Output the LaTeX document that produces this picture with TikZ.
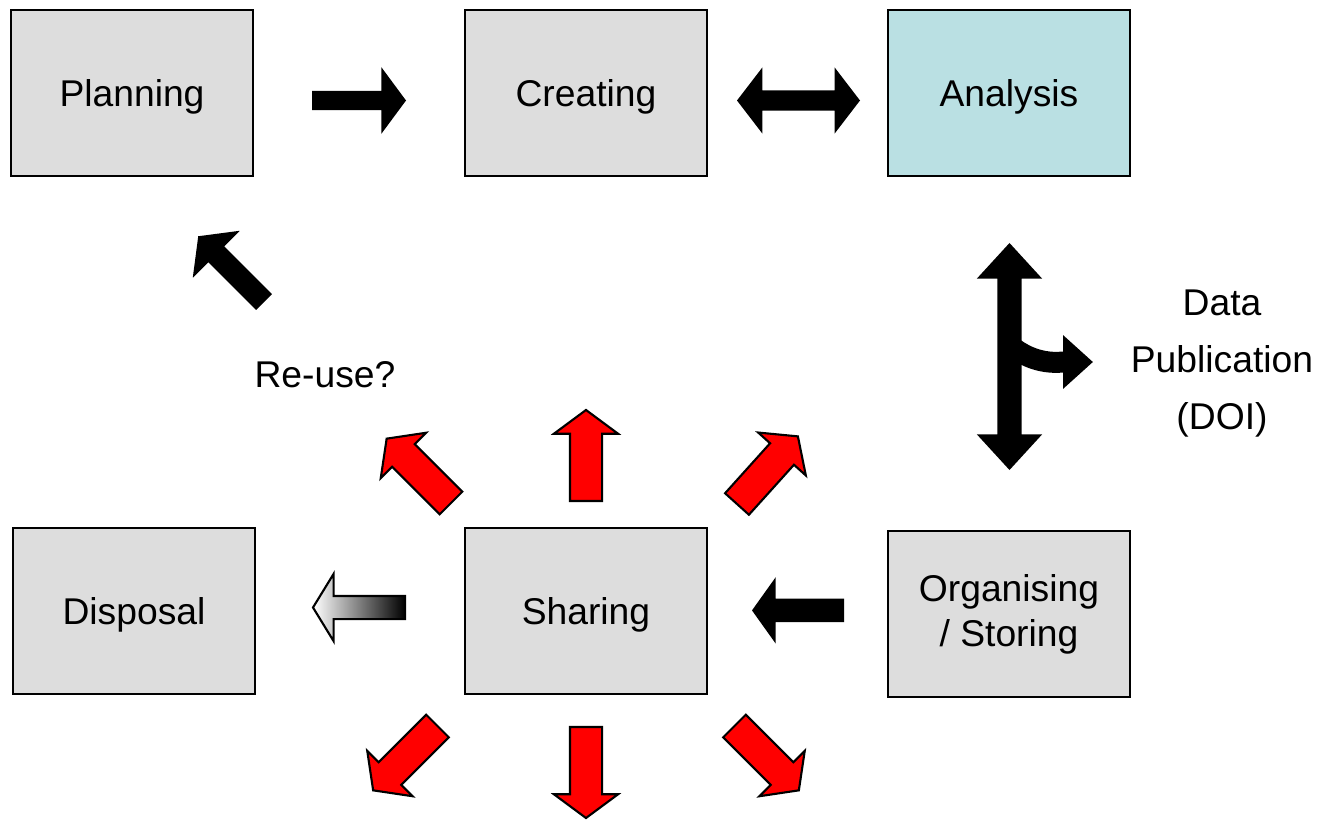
\documentclass[tikz,border=0pt]{standalone}
\usepackage{fontspec}
\setmainfont{Liberation Sans}
\usepackage{tikz}
\usetikzlibrary{
	arrows.meta,
	shapes.arrows,
	positioning
}
\definecolor{BoxGray}{RGB}{221,221,221}
\definecolor{PaleTeal}{RGB}{186,224,227}
\definecolor{BrightRed}{RGB}{255,0,0}

\begin{document}
\begin{tikzpicture}[
	font=\fontsize{10.6}{12.8}\selectfont,
	stage/.style={draw, line width=0.6pt, fill=BoxGray, minimum width=2.42cm, minimum height=1.66cm, align=center},
	oneline/.style={stage, text depth=0pt},
	fat/.style={single arrow, anchor=tail, outer sep=0pt, inner xsep=0pt, minimum width=0pt, minimum height=0.92cm},
	blackarrow/.style={fat, fill=black, inner ysep=0.09cm, single arrow head extend=0.235cm, single arrow tip angle=107},
	redarrow/.style={fat, fill=BrightRed, draw, line width=0.6pt, minimum height=0.91cm, inner ysep=0.15cm, single arrow head extend=0.16cm, single arrow tip angle=107},
	bothways/.style={double arrow, fill=black, outer sep=0pt, inner xsep=0pt, minimum width=0pt}
	]
	\useasboundingbox (0,0) rectangle (13.21,8.19);
	
	% the life-cycle stages
	\node[oneline] (plan) at (1.32,7.26) {Planning};
	\node[oneline] (create) at (5.86,7.26) {Creating};
	\node[oneline, fill=PaleTeal] (analysis) at (10.09,7.26) {Analysis};
	\node[oneline] (dispose) at (1.34,2.08) {Disposal};
	\node[oneline] (share) at (5.86,2.08) {Sharing};
	\node[stage] (organise) at (10.09,2.05) {Organising\\ / Storing};
	
	% black block arrows
	\node[blackarrow, minimum height=0.94cm] (plan2create) at (3.12,7.185) {};
	\node[bothways, minimum height=1.23cm, inner ysep=0.095cm, double arrow head extend=0.23cm, double arrow tip angle=105] (create2analysis) at (7.985,7.185) {};
	\node[bothways, rotate=90, minimum height=2.27cm, inner ysep=0.115cm, double arrow head extend=0.205cm, double arrow tip angle=85] (analysis2organise) at (10.095,4.625) {};
	\node[blackarrow, rotate=180, inner ysep=0.11cm, single arrow head extend=0.215cm, single arrow tip angle=109] (organise2share) at (8.44,2.086) {};
	\node[blackarrow, rotate=135, minimum height=0.93cm, inner ysep=0.105cm, single arrow head extend=0.22cm, single arrow tip angle=105] (reuse2plan) at (2.64,5.17) {};
	
	% branch off to the publication
	\draw[line width=0.21cm, -{Triangle[length=0.30cm, width=0.52cm]}] (10.10,4.74) to[out=-40, in=180] (10.93,4.57);
	
	% shaded arrow towards disposal
	\node[fat, shape border rotate=180, draw, line width=0.6pt, left color=white, right color=black, inner ysep=0.105cm, single arrow head extend=0.22cm, single arrow tip angle=117] (share2dispose) at (4.05,2.115) {};
	
	% red arrows spreading out from sharing
	\node[redarrow, rotate=90] (shareN) at (5.86,3.18) {};
	\node[redarrow, rotate=135] (shareNW) at (4.51,3.16) {};
	\node[redarrow, rotate=48] (shareNE) at (7.37,3.15) {};
	\node[redarrow, rotate=-90] (shareS) at (5.86,0.92) {};
	\node[redarrow, rotate=225] (shareSW) at (4.375,0.93) {};
	\node[redarrow, rotate=-45] (shareSE) at (7.345,0.93) {};
	
	% labels
	\node (reuse) at (3.25,4.44) {Re-use?};
	\node[align=center, font=\fontsize{10.6}{16.2}\selectfont] (doi) at (12.22,4.555) {Data\\ Publication\\ (DOI)};
\end{tikzpicture}
\end{document}
